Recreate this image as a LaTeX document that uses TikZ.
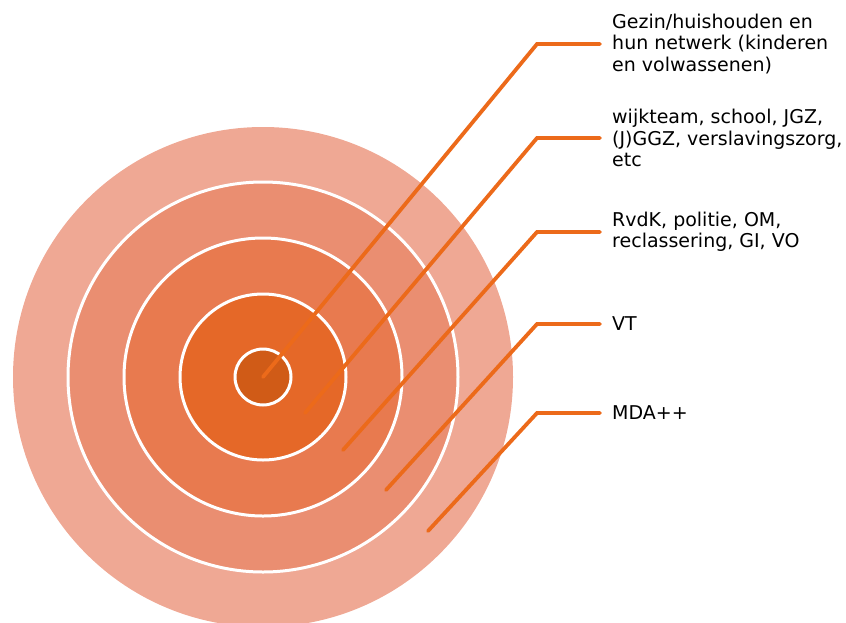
\documentclass[tikz,border=0pt]{standalone}
\usepackage{fontspec}
\setmainfont{DejaVu Sans}
\definecolor{c1}{HTML}{EFA894}
\definecolor{c2}{HTML}{EA8E71}
\definecolor{c3}{HTML}{E87A4F}
\definecolor{c4}{HTML}{E56828}
\definecolor{c5}{HTML}{D05B17}
\definecolor{lead}{HTML}{EC6A1A}
\tikzset{
  ring/.style={draw=white, line width=3pt},
  leader/.style={draw=lead, line width=3.8pt, line cap=round, line join=miter},
  lbl/.style={anchor=west, align=left, inner sep=0pt, font=\fontsize{19pt}{21.5pt}\selectfont, text=black}
}
\begin{document}
\begin{tikzpicture}[x=1pt,y=-1pt]
\useasboundingbox (0,0) rectangle (846,622);
\clip (0,0) rectangle (846,622);
\coordinate (c) at (263,377);
\fill[c1] (c) circle (250);
\filldraw[fill=c2, ring] (c) circle (195);
\filldraw[fill=c3, ring] (c) circle (139);
\filldraw[fill=c4, ring] (c) circle (83);
\filldraw[fill=c5, ring] (c) circle (28);
% labels
\node[lbl] (l1) at (612,44) {Gezin/huishouden en\\hun netwerk (kinderen\\en volwassenen)};
\node[lbl] (l2) at (612,138) {wijkteam, school, JGZ,\\(J)GGZ, verslavingszorg,\\etc};
\node[lbl] (l3) at (612,232) {RvdK, politie, OM,\\reclassering, GI, VO};
\node[lbl] (l4) at (612,324) {VT};
\node[lbl] (l5) at (612,413) {MDA++};
% leader points
\coordinate (s1) at (263,377); \coordinate (e1) at (537,44);  \coordinate (h1) at (600,44);
\coordinate (s2) at (305,413); \coordinate (e2) at (537,138); \coordinate (h2) at (600,138);
\coordinate (s3) at (343,450); \coordinate (e3) at (537,232); \coordinate (h3) at (600,232);
\coordinate (s4) at (386,490); \coordinate (e4) at (537,324); \coordinate (h4) at (600,324);
\coordinate (s5) at (428,531); \coordinate (e5) at (537,413); \coordinate (h5) at (600,413);
\foreach \i in {1,...,5} \draw[leader] (s\i) -- (e\i) -- (h\i);
\end{tikzpicture}
\end{document}
